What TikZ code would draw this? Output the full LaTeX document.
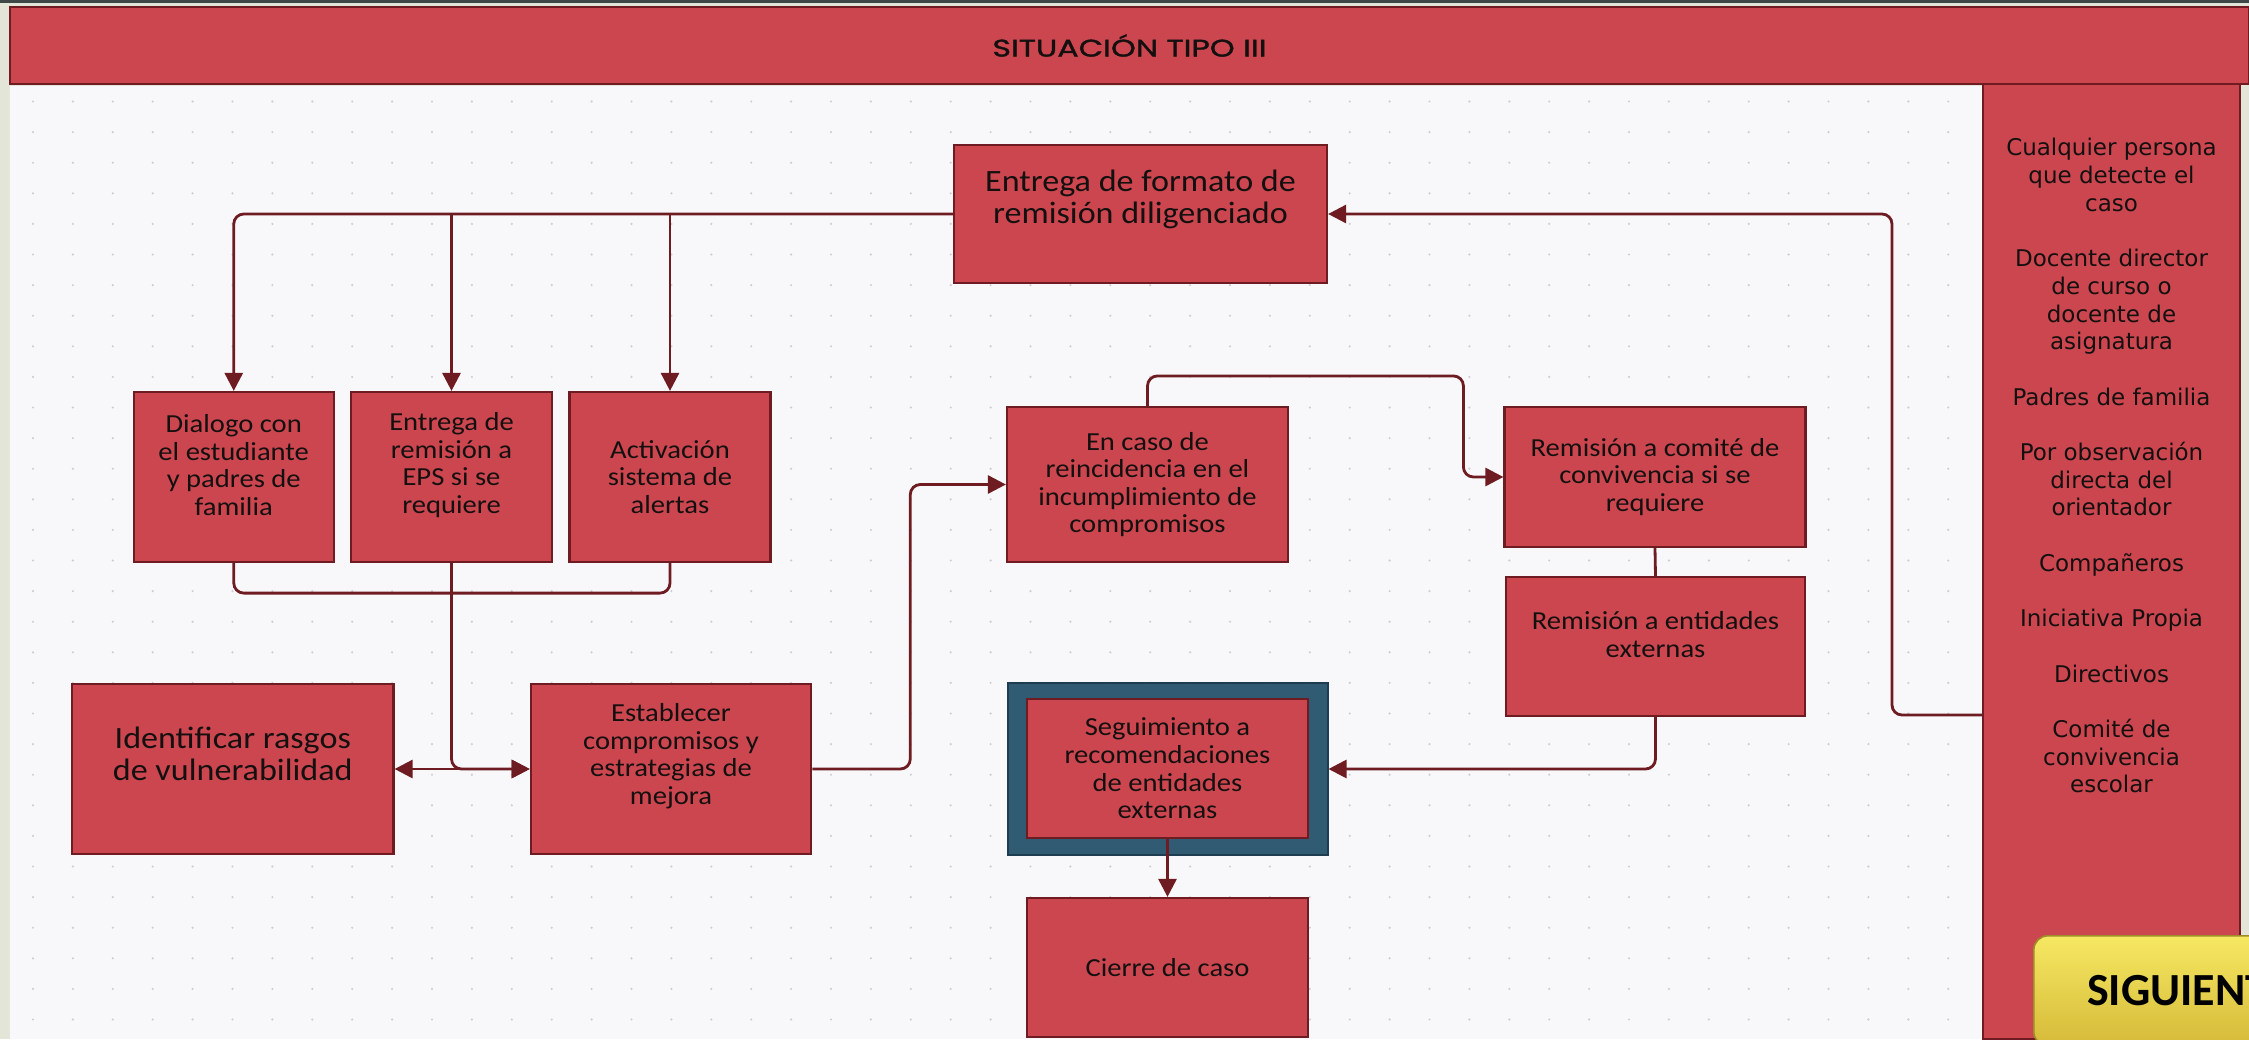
\documentclass[tikz,border=0pt]{standalone}
\usepackage{fontspec}
\setmainfont{Carlito}[FakeStretch=1.1]
\newfontfamily\titlefont{Poppins}[FakeStretch=1.32, FakeBold=1.5]
\newfontfamily\listfont{DejaVu Sans}
\newfontfamily\btnfont{Carlito}
\usetikzlibrary{arrows.meta}

\definecolor{rojo}{HTML}{CC464F}
\definecolor{borde}{HTML}{6E1C22}
\definecolor{azul}{HTML}{315A73}
\definecolor{azulborde}{HTML}{1F3D50}
\definecolor{lienzo}{HTML}{F8F8FA}
\definecolor{beige}{HTML}{E3E5D9}
\definecolor{gris}{HTML}{3E4846}
\definecolor{punto}{HTML}{CDCDD4}
\definecolor{amarillo}{HTML}{F6E862}
\definecolor{dorado}{HTML}{D5BA38}
\definecolor{tinta}{HTML}{141010}

\tikzset{
  caja/.style={draw=borde, fill=rojo, line width=1.1pt, inner sep=0pt,
    align=center, text=tinta, font=\fontsize{13}{13.8}\selectfont},
  texto/.style={align=center, inner sep=0pt, text=tinta,
    font=\fontsize{13}{13.8}\selectfont},
  grande/.style={font=\fontsize{15.5}{16}\selectfont},
  conector/.style={draw=borde, line width=1.4pt, rounded corners=5pt},
  flecha/.style={conector, -{Triangle[length=9pt,width=9pt]}},
  dobleflecha/.style={conector, {Triangle[length=9pt,width=9pt]}-{Triangle[length=9pt,width=9pt]}},
}

\begin{document}
\begin{tikzpicture}[x=0.5pt, y=-0.5pt]
  \useasboundingbox (0,0) rectangle (2249,1039);
  \clip (0,0) rectangle (2249,1039);

  % fondo y rejilla de puntos
  \fill[beige] (0,0) rectangle (2249,1039);
  \fill[gris] (0,0) rectangle (2249,2.5);
  \fill[lienzo] (10,86) rectangle (1983,1039);
  \foreach \i in {0,...,48} {
    \foreach \j in {0,...,30} {
      \fill[punto] (33+39.9*\i, 101.5+30.6*\j) circle (0.6pt);
    }
  }

  % panel derecho y cabecera
  \node[fill=rojo, draw=borde, line width=1pt, minimum width=128.5pt,
    minimum height=477.5pt, inner sep=0pt] (panel) at (2111.5,561.5) {};
  \node[fill=rojo, draw=borde, line width=1pt, minimum width=1119.5pt,
    minimum height=38.5pt, inner sep=0pt, text=tinta,
    font=\titlefont\fontsize{12}{14}\selectfont] (cabecera) at (1129.5,45.5) {SITUACIÓN TIPO III};
  \node[anchor=north, align=center, inner sep=0pt, text=tinta,
    font=\listfont\fontsize{11.5}{13.85}\selectfont] (actores) at (2111.5,138)
    {Cualquier persona\\que detecte el\\caso\\[13.85pt]
     Docente director\\de curso o\\docente de\\asignatura\\[13.85pt]
     Padres de familia\\[13.85pt]
     Por observación\\directa del\\orientador\\[13.85pt]
     Compañeros\\[13.85pt]
     Iniciativa Propia\\[13.85pt]
     Directivos\\[13.85pt]
     Comité de\\convivencia\\escolar};

  % cajas
  \node[caja, minimum width=186.5pt, minimum height=69pt] (formato) at (1140.5,214) {};
  \node[texto, grande] (formato-t) at ([yshift=7.5pt]formato.center) {Entrega de formato de\\remisión diligenciado};

  \node[caja, minimum width=100pt, minimum height=85pt] (dialogo) at (233.75,477) {};
  \node[texto] (dialogo-t) at ([yshift=6pt]dialogo.center) {Dialogo con\\el estudiante\\y padres de\\familia};
  \node[caja, minimum width=100.5pt, minimum height=85pt] (eps) at (451.5,477) {};
  \node[texto] (eps-t) at ([yshift=6pt]eps.center) {Entrega de\\remisión a\\EPS si se\\requiere};
  \node[caja, minimum width=100.5pt, minimum height=85pt] (alertas) at (670,477) {Activación\\sistema de\\alertas};

  \node[caja, minimum width=160.75pt, minimum height=85pt] (rasgos) at (232.75,769) {};
  \node[texto, grande] (rasgos-t) at ([yshift=7.5pt]rasgos.center) {Identificar rasgos\\de vulnerabilidad};
  \node[caja, minimum width=140.2pt, minimum height=85pt] (compromisos) at (671,769) {};
  \node[texto] (compromisos-t) at ([yshift=6.5pt]compromisos.center) {Establecer\\compromisos y\\estrategias de\\mejora};

  \node[caja, minimum width=140.5pt, minimum height=77.5pt] (reincid) at (1147.5,484.5) {En caso de\\reincidencia en el\\incumplimiento de\\compromisos};
  \node[caja, minimum width=150.5pt, minimum height=70pt] (comite) at (1655,477) {Remisión a comité de\\convivencia si se\\requiere};
  \node[caja, minimum width=149.5pt, minimum height=69.5pt] (externas) at (1655.5,646.5) {};
  \node[texto] (externas-t) at ([yshift=6pt]externas.center) {Remisión a entidades\\externas};

  \node[draw=azulborde, fill=azul, line width=1pt, minimum width=160pt,
    minimum height=86pt, inner sep=0pt] (seguim) at (1167.5,769) {};
  \node[caja, minimum width=140.5pt, minimum height=69.5pt] (seguimin) at (1167.5,768.5) {Seguimiento a\\recomendaciones\\de entidades\\externas};
  \node[caja, minimum width=140.5pt, minimum height=69.5pt] (cierre) at (1167.5,967.5) {Cierre de caso};

  % conectores
  \coordinate (entrada) at ([yshift=-76.75pt]panel.west);
  \draw[flecha] (entrada) -- ++(-90,0) |- (formato.east);
  \draw[flecha] (formato.west) -| (dialogo.north);
  \draw[flecha] (eps.north |- formato.west) -- (eps.north);
  \draw[flecha] (alertas.north |- formato.west) -- (alertas.north);
  \draw[conector] (dialogo.south) -- ++(0,30) -| (alertas.south);
  \draw[flecha] (eps.south) |- (compromisos.west);
  \draw[dobleflecha] (rasgos.east) -- (compromisos.west);
  \draw[flecha] (compromisos.east) -- ++(98,0) |- (reincid.west);
  \draw[flecha] (reincid.north) -- ++(0,-30) -| ([xshift=-20pt]comite.west) -- (comite.west);
  \draw[conector] (comite.south) -- (externas.north);
  \draw[flecha] (externas.south) |- (seguim.east);
  \draw[flecha] (seguimin.south) -- (cierre.north);

  % boton
  \node[anchor=north west, rounded corners=7pt, top color=amarillo, bottom color=dorado,
    draw=dorado!75!black, line width=0.8pt, minimum width=155pt, minimum height=55pt,
    inner sep=0pt, text=black, font=\btnfont\bfseries\fontsize{23}{23}\selectfont]
    (siguiente) at (2033,935) {SIGUIENTE};
\end{tikzpicture}
\end{document}
